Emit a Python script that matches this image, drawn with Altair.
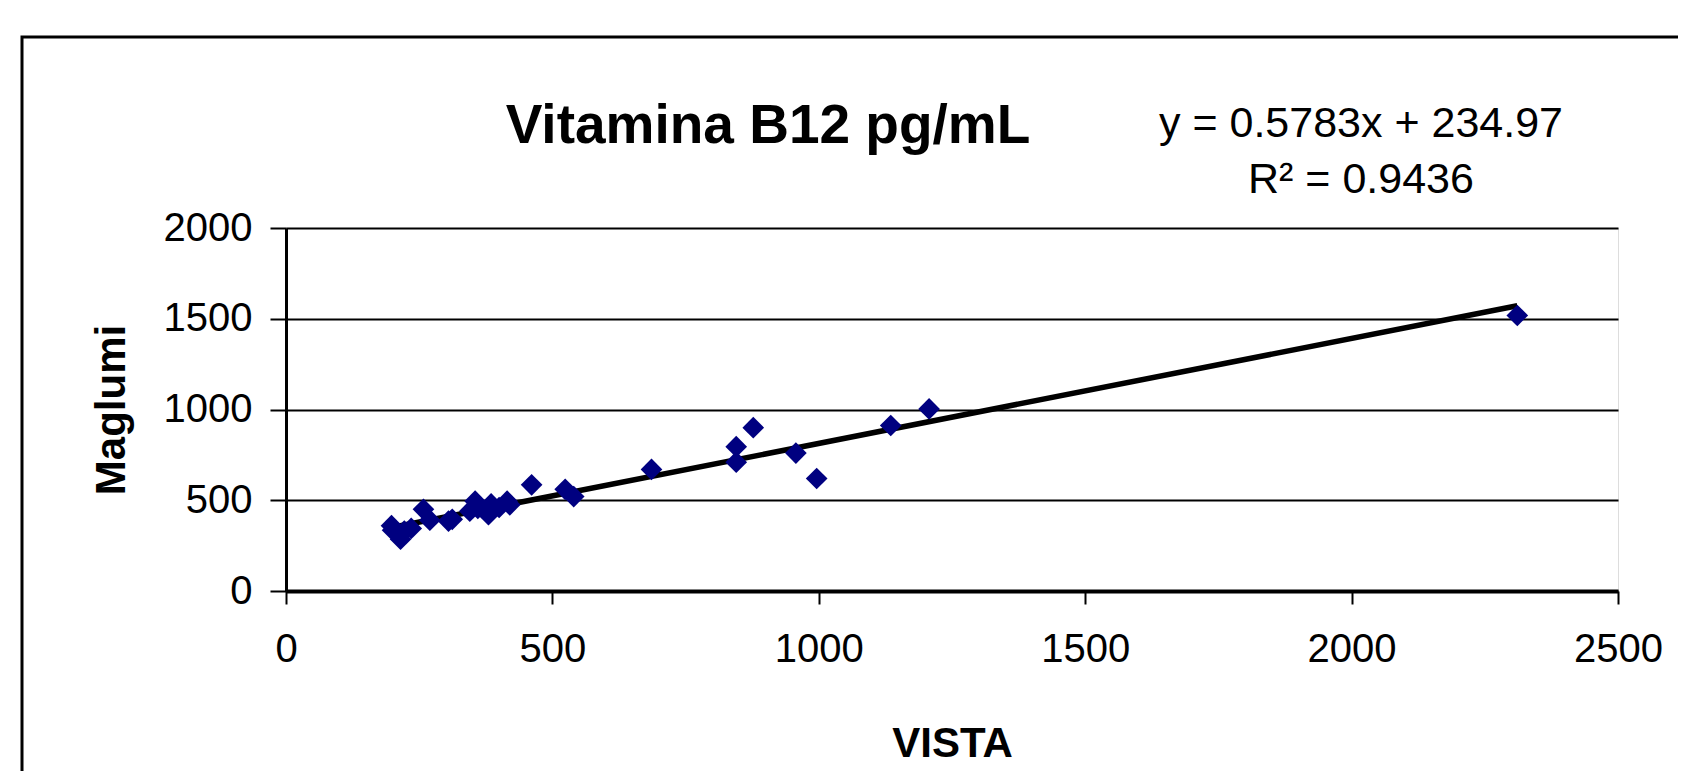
import altair as alt
import pandas as pd

# ---- data ----
vista = [198, 200, 215, 222, 235, 258, 270, 305, 312, 345, 355, 360, 380, 385,
         400, 415, 420, 461, 524, 540, 686, 845, 845, 877, 957, 996, 1135, 1207, 2311]
maglumi = [360, 335, 285, 330, 345, 450, 390, 385, 395, 440, 495, 455, 420, 480,
           460, 495, 475, 585, 560, 520, 670, 795, 710, 900, 760, 620, 912, 1003, 1518]

slope = 0.5783
intercept = 234.97
title_text = "Vitamina B12 pg/mL"
eq_lines = ["y = 0.5783x + 234.97", "R² = 0.9436"]

x_ticks = [0, 500, 1000, 1500, 2000, 2500]
y_ticks = [0, 500, 1000, 1500, 2000]

df = pd.DataFrame({"VISTA": vista, "Maglumi": maglumi})
trend = pd.DataFrame({"VISTA": [min(vista), max(vista)]})
trend["Maglumi"] = slope * trend["VISTA"] + intercept

FONT = "Liberation Sans"
W, H = 1332, 363

xscale = alt.Scale(domain=[0, 2500], nice=False)
yscale = alt.Scale(domain=[0, 2000], nice=False)

xaxis = alt.Axis(values=x_ticks, format="d", grid=False, title="VISTA", labelFontSize=40,
                 labelFont=FONT, labelColor="black", tickColor="black", tickSize=13,
                 tickWidth=2, labelPadding=25, domainColor="black", domainWidth=4,
                 titleFont=FONT, titleFontSize=42, titleFontWeight="bold",
                 titleColor="black", titlePadding=54, labelFlush=False)
yaxis = alt.Axis(values=y_ticks, format="d", grid=True, gridColor="black", gridWidth=2,
                 title="Maglumi", labelFontSize=40, labelFont=FONT, labelColor="black",
                 tickColor="black", tickSize=16, tickWidth=2, labelPadding=18,
                 domainColor="black", domainWidth=3, titleFont=FONT, titleFontSize=42,
                 titleFontWeight="bold", titleColor="black", titlePadding=30,
                 labelFlush=False)

points = alt.Chart(df).mark_point(shape="diamond", filled=True, color="#000080",
                                  size=470, opacity=1).encode(
    x=alt.X("VISTA:Q", scale=xscale, axis=xaxis),
    y=alt.Y("Maglumi:Q", scale=yscale, axis=yaxis),
)

line = alt.Chart(trend).mark_line(color="black", strokeWidth=5.5).encode(
    x=alt.X("VISTA:Q", scale=xscale),
    y=alt.Y("Maglumi:Q", scale=yscale),
)

txt_df = pd.DataFrame({"t": [title_text] + eq_lines, "row": [0, 1, 2]})

title = alt.Chart(txt_df).transform_filter("datum.row == 0").mark_text(
    font=FONT, fontSize=55, fontWeight="bold", color="black", align="center",
    baseline="middle"
).encode(text="t:N", x=alt.value(482), y=alt.value(-102))
eq1 = alt.Chart(txt_df).transform_filter("datum.row == 1").mark_text(
    font=FONT, fontSize=43, color="black", align="center", baseline="middle"
).encode(text="t:N", x=alt.value(1075), y=alt.value(-104))
eq2 = alt.Chart(txt_df).transform_filter("datum.row == 2").mark_text(
    font=FONT, fontSize=43, color="black", align="center", baseline="middle"
).encode(text="t:N", x=alt.value(1075), y=alt.value(-48))

frame = alt.Chart(txt_df).transform_filter("datum.row == 0").mark_rect(
    fill=None, fillOpacity=0, stroke="black", strokeWidth=3
).encode(x=alt.value(-264), x2=alt.value(1500), y=alt.value(-191), y2=alt.value(700))

chart = alt.layer(frame, line, points, title, eq1, eq2).properties(
    width=W, height=H,
    autosize=alt.AutoSizeParams(type="none"),
    padding={"left": 278, "top": 220, "right": 60, "bottom": 180},
).configure_view(
    fill="#C0C0C0", stroke="#808080", strokeWidth=2
).configure(background="white")

chart.save("out.html", embed_options={"renderer": "svg", "actions": False})
